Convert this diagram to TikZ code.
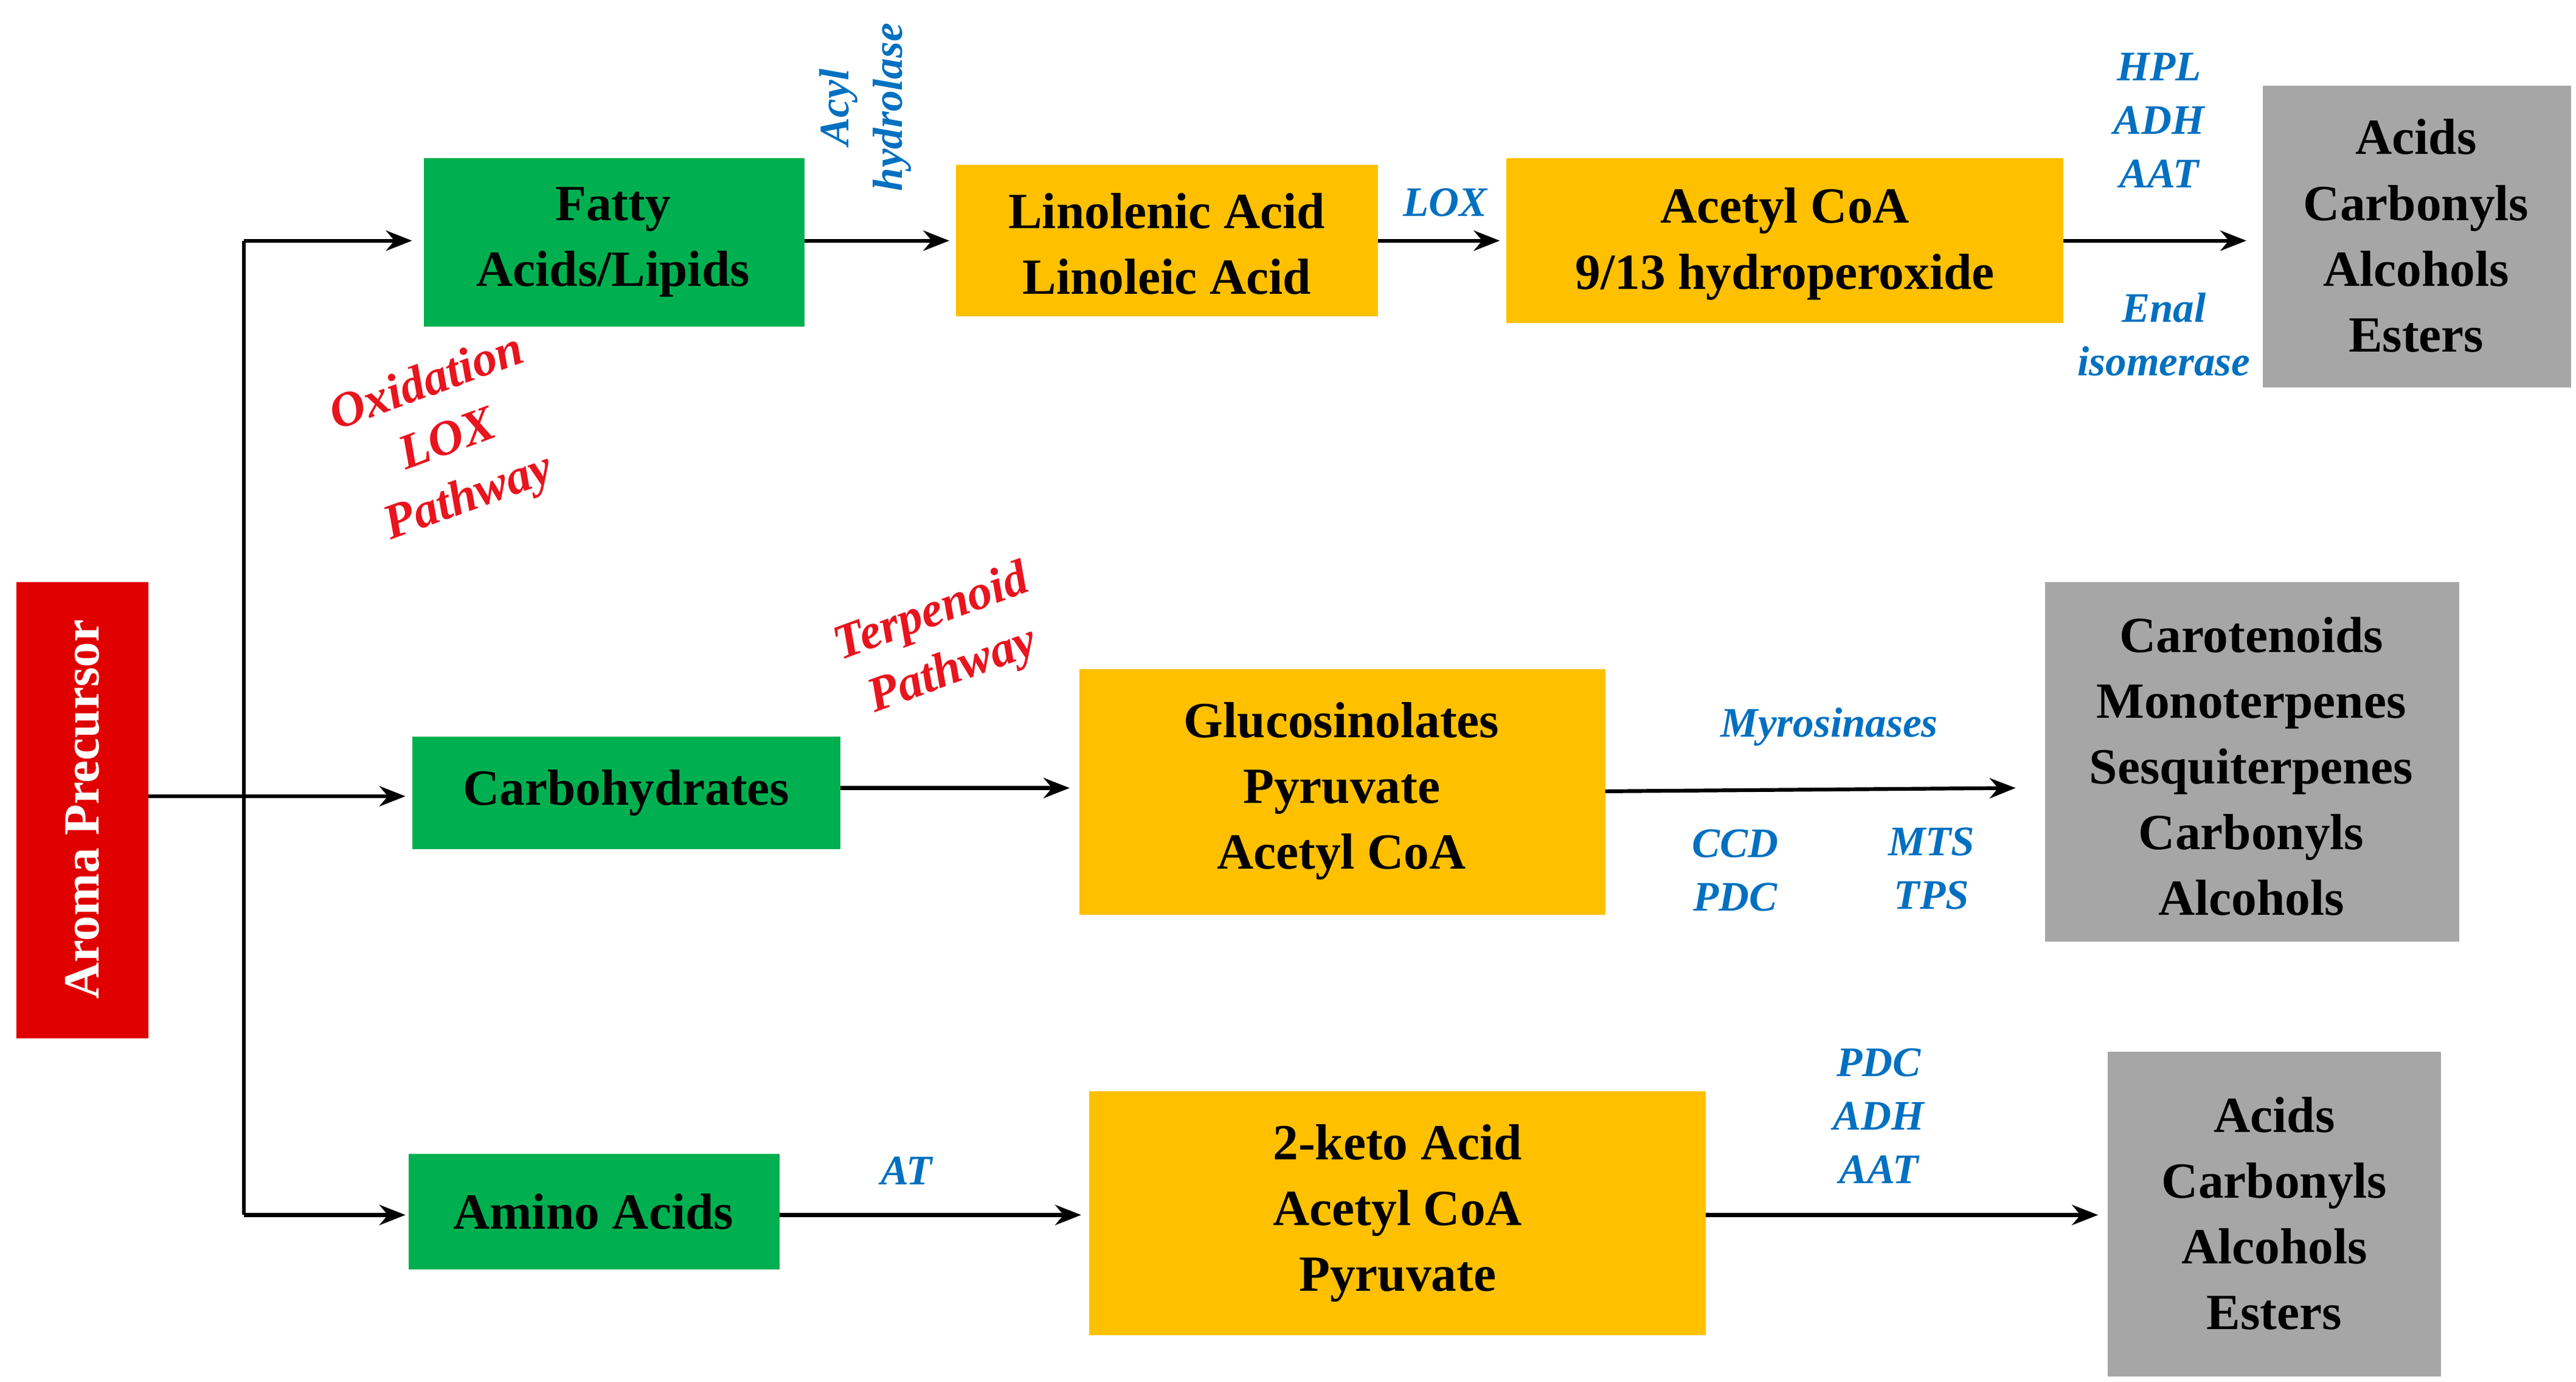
\documentclass[tikz,border=0pt]{standalone}
\usepackage{fontspec}
\setmainfont{Liberation Serif}
\usetikzlibrary{arrows.meta}
\definecolor{gr}{HTML}{00B050}
\definecolor{og}{HTML}{FFC000}
\definecolor{gy}{HTML}{A6A6A6}
\definecolor{rd}{HTML}{E00000}
\definecolor{bl}{HTML}{0070C0}
\definecolor{rt}{HTML}{E8141E}
\begin{document}
\begin{tikzpicture}[x=0.02cm,y=-0.02cm,
 box/.style={draw=none,inner sep=0pt,align=center,font=\fontsize{17.5}{22.7}\selectfont\bfseries},
 arr/.style={line width=1.3pt,-{Stealth[length=9pt,width=7pt]}},
 lab/.style={text=bl,font=\fontsize{14.5}{18.5}\selectfont\bfseries\itshape,align=center,inner sep=0pt},
 rlab/.style={text=rt,font=\fontsize{17}{21}\selectfont\bfseries\itshape,align=center,inner sep=0pt}]
\useasboundingbox (0,0) rectangle (1563,838);
\path[fill=rd] (10,353) rectangle (90,630);
\node[box,text=white,rotate=90] (ap) at (50,491) {Aroma Precursor};
\path[fill=gr] (257,96) rectangle (488,198); \node[box] (fa) at (372,147) {Fatty\\Acids/Lipids};
\path[fill=gr] (250,447) rectangle (510,515); \node[box] (ca) at (380,481) {Carbohydrates};
\path[fill=gr] (248,700) rectangle (473,770); \node[box] (aa) at (360,735) {Amino Acids};
\path[fill=og] (580,100) rectangle (836,192); \node[box] (li) at (708,148) {Linolenic Acid\\Linoleic Acid};
\path[fill=og] (914,96) rectangle (1252,196); \node[box] (ac) at (1083,148) {Acetyl CoA\\9/13 hydroperoxide};
\path[fill=og] (655,406) rectangle (974,555); \node[box] (gl) at (814,480) {Glucosinolates\\Pyruvate\\Acetyl CoA};
\path[fill=og] (661,662) rectangle (1035,810); \node[box] (kt) at (848,736) {2-keto Acid\\Acetyl CoA\\Pyruvate};
\path[fill=gy] (1373,52) rectangle (1560,235); \node[box] (g1) at (1466,143) {Acids\\Carbonyls\\Alcohols\\Esters};
\path[fill=gy] (1241,353) rectangle (1492,571); \node[box] (g2) at (1366,465) {Carotenoids\\Monoterpenes\\Sesquiterpenes\\Carbonyls\\Alcohols};
\path[fill=gy] (1279,638) rectangle (1481,835); \node[box] (g3) at (1380,736) {Acids\\Carbonyls\\Alcohols\\Esters};
\coordinate (j) at (148,483); \coordinate (jt) at (148,146); \coordinate (jb) at (148,737);
\draw[line width=1.3pt] (90,483) -- (j);
\draw[line width=1.3pt] (jt) -- (jb);
\draw[arr] (jt) -- (250,146);
\draw[arr] (j) -- (246,483);
\draw[arr] (jb) -- (246,737);
\draw[arr] (488,146) -- (576,146);
\draw[arr] (836,146) -- (910,146);
\draw[arr] (1252,146) -- (1363,146);
\draw[arr] (510,478) -- (649,478);
\draw[arr] (974,480) -- (1223,478);
\draw[arr] (473,737) -- (656,737);
\draw[arr] (1035,737) -- (1273,737);
\node[lab,rotate=90] (l1) at (525,65) {Acyl\\hydrolase};
\node[lab] (l2) at (877,123) {LOX};
\node[lab] (l3) at (1310,73) {HPL\\ADH\\AAT};
\node[lab] (l4) at (1313,203) {Enal\\isomerase};
\node[lab] (l5) at (1110,441) {Myrosinases};
\node[lab] (l6) at (1053,528) {CCD\\PDC};
\node[lab] (l7) at (1172,527) {MTS\\TPS};
\node[lab] (l8) at (550,710) {AT};
\node[lab] (l9) at (1140,677) {PDC\\ADH\\AAT};
\node[rlab,rotate=20] (r1) at (272,268) {Oxidation\\LOX\\Pathway};
\node[rlab,rotate=20] (r2) at (572,390) {Terpenoid\\Pathway};
\end{tikzpicture}
\end{document}
